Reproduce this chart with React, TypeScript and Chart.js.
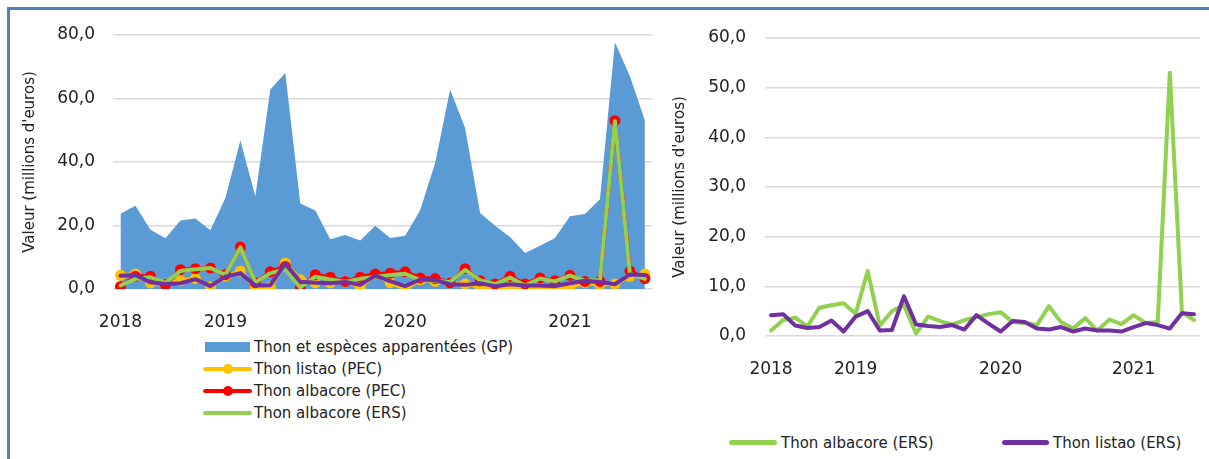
import React, { useEffect, useRef } from "react";
import { Chart, registerables } from "chart.js";

Chart.register(...registerables);

// 36 periods (Jan 2018 .. mid 2021)
const categories = [
  "1", "2", "3", "4", "5", "6", "7", "8", "9", "10", "11", "12",
  "13", "14", "15", "16", "17", "18", "19", "20", "21", "22", "23", "24",
  "25", "26", "27", "28", "29", "30", "31", "32", "33", "34", "35", "36",
];

// year tick labels shown at given category positions
const yearTickIndex = [0, 7, 19, 30];
const yearTickText = ["2018", "2019", "2020", "2021"];

// Thon et espèces apparentées (GP)
const gpValues = [
  23.7, 26.2, 18.7, 16.0, 21.6, 22.2, 18.5, 28.7, 46.8, 29.2, 62.8, 68.0,
  26.9, 24.7, 15.7, 17.0, 15.3, 19.9, 16.1, 16.8, 24.8, 39.7, 62.8, 50.7,
  23.9, 19.9, 16.4, 11.3, 13.6, 16.1, 22.9, 23.6, 28.3, 77.7, 67.0, 53.1,
];

// Thon listao (PEC)
const listaoPec = [
  4.3, 4.7, 1.9, 1.6, 2.6, 3.3, 0.6, 4.0, 5.6, 0.6, 0.6, 8.2,
  2.9, 1.9, 1.9, 2.4, 0.6, 4.5, 2.0, 0.1, 2.9, 2.4, 1.9, 1.6,
  0.8, 0.0, 0.8, 0.3, 0.5, 0.1, 0.8, 1.9, 1.4, 1.6, 4.0, 4.7,
];

// Thon albacore (PEC)
const albacorePec = [
  0.8, 4.0, 4.0, 1.4, 6.1, 6.4, 6.6, 4.5, 13.2, 2.0, 5.4, 7.1,
  0.3, 4.5, 3.7, 2.4, 3.7, 4.7, 5.0, 5.4, 3.5, 3.3, 1.9, 6.4,
  2.6, 1.6, 4.0, 1.6, 3.5, 2.6, 4.3, 2.4, 2.4, 53.0, 5.6, 3.3,
];

// Thon albacore (ERS)
const albacoreErs = [
  1.1, 3.2, 3.7, 1.9, 5.7, 6.2, 6.6, 4.5, 13.1, 2.1, 5.0, 6.2,
  0.5, 3.9, 3.0, 2.3, 3.2, 3.8, 4.4, 4.8, 2.8, 2.6, 2.2, 6.0,
  2.8, 1.5, 3.6, 1.1, 3.3, 2.4, 4.2, 2.6, 2.8, 53.0, 4.8, 3.2,
];

// Thon listao (ERS)
const listaoErs = [
  4.2, 4.4, 2.1, 1.6, 1.8, 3.1, 0.9, 3.9, 5.0, 1.1, 1.2, 8.0,
  2.3, 2.0, 1.8, 2.2, 1.3, 4.2, 2.5, 0.9, 3.0, 2.8, 1.5, 1.3,
  1.8, 0.9, 1.5, 1.1, 1.1, 0.9, 1.8, 2.6, 2.2, 1.5, 4.6, 4.4,
];

const FONT = '"DejaVu Sans", sans-serif';
const TEXT = "#222222";
const C_BLUE = "#5b9bd5";
const C_YELLOW = "#ffc000";
const C_RED = "#ff0000";
const C_GREEN = "#92d050";
const C_PURPLE = "#7030a0";

const fmt = (v: number) => v.toFixed(1).replace(".", ",");
const yearTick = (i: number) => {
  const k = yearTickIndex.indexOf(i);
  return k >= 0 ? yearTickText[k] : "";
};

function buildOptions(cfg: {
  max: number;
  step: number;
  yWidth: number;
  titlePad: number;
  tickPad: number;
  xPad: number;
  layout: { left: number; right: number; top: number; bottom: number };
}) {
  return {
    responsive: false,
    animation: false as const,
    events: [] as any[],
    layout: { padding: cfg.layout },
    plugins: { legend: { display: false }, tooltip: { enabled: false } },
    scales: {
      x: {
        type: "category" as const,
        offset: true,
        grid: { display: false },
        border: { display: false },
        ticks: {
          autoSkip: false,
          maxRotation: 0,
          minRotation: 0,
          padding: cfg.xPad,
          color: TEXT,
          font: { family: FONT, size: 17 },
          callback: (_v: any, i: number) => yearTick(i),
        },
        afterFit: (s: any) => {
          s.height = 40;
        },
      },
      y: {
        min: 0,
        max: cfg.max,
        border: { display: false },
        grid: { color: "#d9d9d9", lineWidth: 1.5, drawTicks: false },
        ticks: {
          stepSize: cfg.step,
          padding: cfg.tickPad,
          color: TEXT,
          font: { family: FONT, size: 17 },
          callback: (v: any) => fmt(Number(v)),
        },
        title: {
          display: true,
          text: "Valeur (millions d'euros)",
          color: TEXT,
          font: { family: FONT, size: 15 },
          padding: { top: cfg.titlePad, bottom: 0 },
        },
        afterFit: (s: any) => {
          s.width = cfg.yWidth;
        },
      },
    },
  };
}

function lineDs(label: string, data: number[], color: string, order: number, markers: boolean) {
  return {
    type: "line" as const,
    label,
    data,
    borderColor: color,
    backgroundColor: color,
    borderWidth: 4,
    tension: 0,
    fill: false,
    pointRadius: markers ? 5.5 : 0,
    pointBorderWidth: 0,
    pointBackgroundColor: color,
    borderCapStyle: "round" as const,
    borderJoinStyle: "round" as const,
    order,
  };
}

export default function App() {
  const leftRef = useRef<HTMLCanvasElement>(null);
  const rightRef = useRef<HTMLCanvasElement>(null);

  useEffect(() => {
    const left = new Chart(leftRef.current!, {
      type: "line",
      data: {
        labels: categories,
        datasets: [
          {
            type: "line",
            label: "Thon et espèces apparentées (GP)",
            data: gpValues,
            borderWidth: 0,
            borderColor: C_BLUE,
            backgroundColor: C_BLUE,
            fill: "origin",
            pointRadius: 0,
            tension: 0,
            order: 5,
          },
          lineDs("Thon listao (PEC)", listaoPec, C_YELLOW, 4, true),
          lineDs("Thon albacore (PEC)", albacorePec, C_RED, 3, true),
          lineDs("Thon albacore (ERS)", albacoreErs, C_GREEN, 2, false),
          lineDs("Thon listao (ERS)", listaoErs, C_PURPLE, 1, false),
        ] as any,
      },
      options: buildOptions({
        max: 80,
        step: 20,
        yWidth: 113,
        titlePad: 21,
        tickPad: 18,
        xPad: 15,
        layout: { left: 0, right: 7, top: 35, bottom: 1 },
      }) as any,
    });

    const right = new Chart(rightRef.current!, {
      type: "line",
      data: {
        labels: categories,
        datasets: [
          lineDs("Thon albacore (ERS)", albacoreErs, C_GREEN, 2, false),
          lineDs("Thon listao (ERS)", listaoErs, C_PURPLE, 1, false),
        ] as any,
      },
      options: buildOptions({
        max: 60,
        step: 10,
        yWidth: 105,
        titlePad: 11,
        tickPad: 19,
        xPad: 15,
        layout: { left: 0, right: 1, top: 38, bottom: 4 },
      }) as any,
    });

    return () => {
      left.destroy();
      right.destroy();
    };
  }, []);

  const textStyle: React.CSSProperties = {
    position: "absolute",
    fontFamily: FONT,
    fontSize: 15,
    lineHeight: "18px",
    color: TEXT,
    whiteSpace: "nowrap",
  };

  const lineSwatch = (x: number, cy: number, w: number, color: string, h = 4) => (
    <div
      style={{
        position: "absolute",
        left: x,
        top: cy - h / 2,
        width: w,
        height: h,
        borderRadius: h / 2,
        background: color,
      }}
    />
  );

  const marker = (cx: number, cy: number, color: string) => (
    <div
      style={{
        position: "absolute",
        left: cx - 5,
        top: cy - 5,
        width: 10,
        height: 10,
        borderRadius: 5,
        background: color,
      }}
    />
  );

  const leftRows = [347, 369, 391, 413];

  return (
    <div
      style={{
        position: "absolute",
        left: 0,
        top: 0,
        width: 1209,
        height: 459,
        overflow: "hidden",
        background: "#ffffff",
      }}
    >
      <div
        style={{
          position: "absolute",
          left: 7,
          top: 7,
          width: 1300,
          height: 600,
          border: "3px solid #4f81bd",
          boxSizing: "border-box",
        }}
      />
      <canvas
        ref={leftRef}
        width={660}
        height={330}
        style={{ position: "absolute", left: 0, top: 0, width: 660, height: 330 }}
      />
      <canvas
        ref={rightRef}
        width={549}
        height={380}
        style={{ position: "absolute", left: 660, top: 0, width: 549, height: 380 }}
      />

      {/* left legend */}
      <div
        style={{
          position: "absolute",
          left: 205,
          top: leftRows[0] - 5,
          width: 45,
          height: 10,
          background: C_BLUE,
        }}
      />
      <div style={{ ...textStyle, left: 254, top: leftRows[0] - 9 }}>
        Thon et espèces apparentées (GP)
      </div>
      {lineSwatch(203, leftRows[1], 49, C_YELLOW)}
      {marker(227.5, leftRows[1], C_YELLOW)}
      <div style={{ ...textStyle, left: 254, top: leftRows[1] - 9 }}>Thon listao (PEC)</div>
      {lineSwatch(203, leftRows[2], 49, C_RED)}
      {marker(227.5, leftRows[2], C_RED)}
      <div style={{ ...textStyle, left: 254, top: leftRows[2] - 9 }}>Thon albacore (PEC)</div>
      {lineSwatch(203, leftRows[3], 49, C_GREEN)}
      <div style={{ ...textStyle, left: 254, top: leftRows[3] - 9 }}>Thon albacore (ERS)</div>

      {/* right legend */}
      {lineSwatch(729, 442.5, 48, C_GREEN, 5)}
      <div style={{ ...textStyle, left: 781, top: 442.5 - 9 }}>Thon albacore (ERS)</div>
      {lineSwatch(1002, 442.5, 47, C_PURPLE, 5)}
      <div style={{ ...textStyle, left: 1053, top: 442.5 - 9 }}>Thon listao (ERS)</div>
    </div>
  );
}
